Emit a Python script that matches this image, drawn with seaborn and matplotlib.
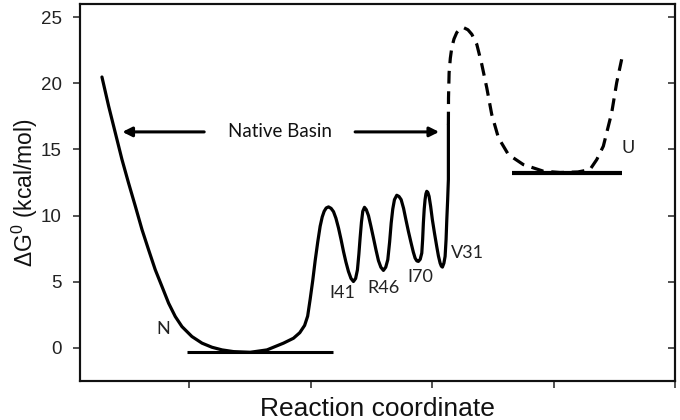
import matplotlib
matplotlib.use("Agg")
import matplotlib.pyplot as plt
import seaborn as sns
import pandas as pd

# folded path (solid)
solid_x = [0.281, 0.336, 0.391, 0.446, 0.500, 0.556, 0.611, 0.665, 0.720, 0.775,
           0.830, 0.885, 0.940, 1.022, 1.105, 1.187, 1.270, 1.365, 1.502, 1.640,
           1.776, 1.858, 1.910, 1.950, 1.975, 1.996, 2.017, 2.037, 2.058, 2.078,
           2.095, 2.111, 2.128, 2.147, 2.168, 2.188, 2.208, 2.229, 2.250, 2.270,
           2.290, 2.311, 2.332, 2.352, 2.370, 2.385, 2.397, 2.407, 2.418, 2.429,
           2.443, 2.458, 2.476, 2.496, 2.517, 2.538, 2.558, 2.578, 2.599, 2.618,
           2.635, 2.650, 2.663, 2.676, 2.690, 2.709, 2.727, 2.745, 2.765, 2.784,
           2.805, 2.827, 2.845, 2.860, 2.874, 2.887, 2.902, 2.915, 2.922, 2.928,
           2.935, 2.942, 2.949, 2.956, 2.965, 2.975, 2.988, 3.002, 3.020, 3.038,
           3.052, 3.066, 3.076, 3.085, 3.097, 3.107, 3.115, 3.121, 3.128, 3.134,
           3.134]
solid_y = [20.48, 18.28, 16.26, 14.24, 12.47, 10.71, 8.94, 7.42, 5.91, 4.65,
           3.38, 2.37, 1.61, 0.86, 0.36, 0.05, -0.15, -0.28, -0.33, -0.15,
           0.36, 0.73, 1.15, 1.70, 2.40, 3.70, 5.10, 6.60, 8.00, 9.20,
           9.90, 10.33, 10.58, 10.66, 10.55, 10.30, 9.80, 9.07, 8.20, 7.30,
           6.50, 5.78, 5.25, 5.02, 5.25, 5.90, 7.10, 8.31, 9.50, 10.33,
           10.63, 10.45, 10.00, 9.20, 8.31, 7.40, 6.60, 6.10, 5.86, 6.10,
           6.67, 8.00, 9.44, 10.50, 11.21, 11.54, 11.45, 11.21, 10.55, 9.70,
           8.80, 7.93, 7.25, 6.79, 6.58, 6.54, 6.70, 7.17, 8.20, 9.44,
           10.50, 11.21, 11.65, 11.84, 11.75, 11.46, 10.70, 9.70, 8.65, 7.67,
           6.95, 6.41, 6.18, 6.11, 6.40, 6.92, 8.20, 9.70, 11.20, 12.73,
           16.89]

# unfolding path (dashed)
dash_x = [3.134, 3.135, 3.140, 3.150, 3.162, 3.180, 3.203, 3.230, 3.258, 3.295,
          3.327, 3.368, 3.409, 3.450, 3.491, 3.546, 3.628, 3.751, 3.916, 4.053,
          4.200, 4.300, 4.356, 4.410, 4.479, 4.520, 4.561]
dash_y = [16.89, 18.9, 20.8, 21.9, 22.70, 23.35, 23.84, 24.12, 24.22, 24.05,
          23.71, 22.95, 21.44, 19.67, 17.65, 15.89, 14.62, 13.86, 13.36, 13.26,
          13.30, 13.48, 14.24, 15.25, 17.78, 20.05, 21.82]

# state levels
n_level_x = [0.984, 2.185]
n_level_y = [-0.30, -0.30]
u_level_x = [3.658, 4.564]
u_level_y = [13.26, 13.26]

state_names = ["N", "I41", "R46", "I70", "V31", "U"]
state_x = [0.786, 2.259, 2.597, 2.901, 3.288, 4.613]
state_y = [1.45, 4.17, 4.55, 5.38, 7.20, 15.15]

basin_text = "Native Basin"
basin_x = 1.749
basin_y = 16.33
arrow_left = (1.123, 0.449)
arrow_right = (2.366, 3.058)

x_ticks = [1, 2, 3, 4, 5]
y_ticks = [0, 5, 10, 15, 20, 25]

sns.set_theme(style="white")
plt.rcParams["font.family"] = ["Liberation Sans", "DejaVu Sans"]
plt.rcParams["mathtext.fontset"] = "custom"
plt.rcParams["mathtext.rm"] = "Liberation Sans"
plt.rcParams["mathtext.it"] = "Liberation Sans:italic"

fig = plt.figure(figsize=(6.8, 4.2), dpi=100)
ax = fig.add_axes([0.1176, 0.0929, 0.875, 0.8976])

solid_df = pd.DataFrame({"x": solid_x, "y": solid_y})
dash_df = pd.DataFrame({"x": dash_x, "y": dash_y})

sns.lineplot(data=solid_df, x="x", y="y", sort=False, estimator=None,
             color="black", lw=2.3, ax=ax)
sns.lineplot(data=dash_df, x="x", y="y", sort=False, estimator=None,
             color="black", lw=2.3, ax=ax)
ax.lines[-1].set_dashes((4, 2.4))

ax.plot(n_level_x, n_level_y, color="black", lw=2.2, solid_capstyle="butt")
ax.plot(u_level_x, u_level_y, color="black", lw=3.0, solid_capstyle="butt")

lato = ["Lato", "DejaVu Sans"]
for name, tx, ty in zip(state_names, state_x, state_y):
    ax.text(tx, ty, name, ha="center", va="center", fontsize=13,
            family=lato, color="#222222")

ax.text(basin_x, basin_y, basin_text, ha="center", va="center", fontsize=13.5,
        family=lato, color="#111111")
for tail, head in (arrow_left, arrow_right):
    ax.annotate("", xy=(head, basin_y), xytext=(tail, basin_y),
                arrowprops=dict(arrowstyle="-|>", color="black", lw=2.2,
                                mutation_scale=14, shrinkA=0, shrinkB=0))

ax.set_xlim(0.1, 5.0)
ax.set_ylim(-2.5, 26)
ax.set_xticks(x_ticks)
ax.set_xticklabels([])
ax.set_yticks(y_ticks)
ax.tick_params(axis="x", direction="out", length=5, width=1.2, color="#333333", bottom=True)
ax.tick_params(axis="y", direction="out", length=5, width=1.2, color="#333333",
               left=True, labelsize=13.5, pad=8, labelcolor="#222222")

ax2 = ax.twinx()
ax2.set_ylim(ax.get_ylim())
ax2.set_yticks(y_ticks)
ax2.set_yticklabels([])
ax2.tick_params(axis="y", direction="in", length=5, width=1.2, color="#333333", right=True)
ax2.grid(False)

for a in (ax, ax2):
    for sp in a.spines.values():
        sp.set_color("#111111")
        sp.set_linewidth(1.5)

ax.set_xlabel("Reaction coordinate", fontsize=19, labelpad=3, color="#111111")
ax.set_ylabel("ΔG$^{0}$ (kcal/mol)", fontsize=16.5, labelpad=1, color="#111111")

fig.savefig("out.png", dpi=100, facecolor="white")
